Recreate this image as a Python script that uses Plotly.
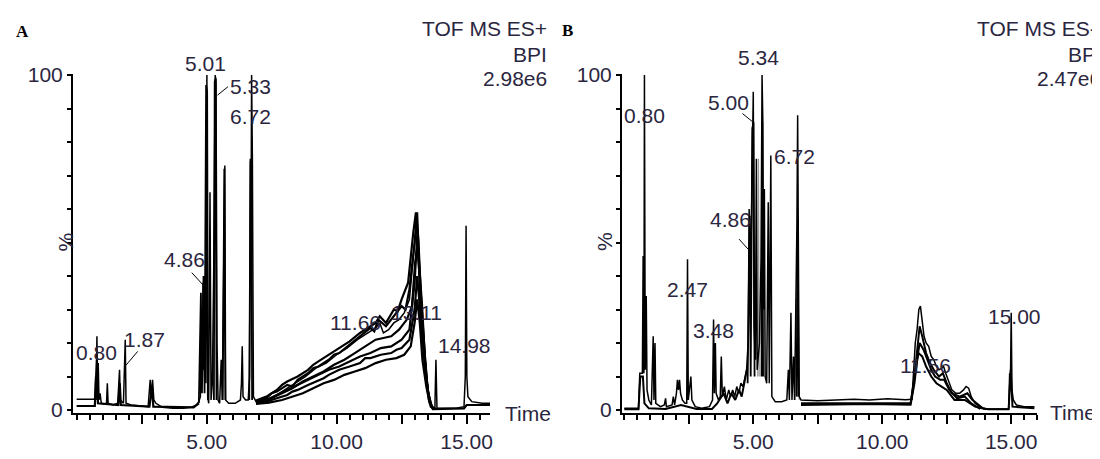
import plotly.graph_objects as go

# ---------------- Panel A (TOF MS ES+) ----------------
A_t = [0.00, 0.65, 0.70, 0.73, 0.75, 0.78, 0.81, 0.83, 0.86, 0.90, 0.95, 1.05, 1.15, 1.18, 1.21, 1.40,
       1.58, 1.62, 1.65, 1.68, 1.80, 1.87, 1.90, 2.10, 2.40, 2.75, 2.83, 2.87, 2.92, 2.97, 3.05, 3.30,
       3.70, 4.10, 4.40, 4.60, 4.70, 4.76, 4.80, 4.83, 4.86, 4.89, 4.93, 4.97, 5.01, 5.04, 5.08, 5.13,
       5.17, 5.22, 5.27, 5.30, 5.33, 5.36, 5.40, 5.44, 5.50, 5.56, 5.60, 5.66, 5.70, 5.73, 5.85, 6.10,
       6.30, 6.34, 6.37, 6.40, 6.50, 6.60, 6.65, 6.68, 6.70, 6.73, 6.76, 6.80, 6.90, 7.20, 7.60, 8.00,
       8.40, 8.80, 9.20, 9.60, 10.00, 10.40, 10.80, 11.20, 11.50, 11.66, 11.80, 12.00, 12.20, 12.40,
       12.60, 12.80, 12.95, 13.05, 13.11, 13.18, 13.25, 13.35, 13.45, 13.55, 13.65, 13.78, 13.82,
       13.86, 14.20, 14.60, 14.90, 14.95, 14.98, 15.01, 15.05, 15.20, 15.60, 15.90]
A_v = [3.2, 3.2, 3.5, 10, 3, 22, 4, 14, 3, 5, 2, 1.8, 2, 8, 2, 1.5,
       2, 10, 12, 3, 2, 21, 2, 1.5, 1.2, 1, 9, 4, 9, 3, 2, 0.8,
       0.5, 0.5, 0.8, 1.5, 2.5, 4, 30, 10, 38, 12, 36, 8, 100, 4, 2, 65,
       3, 8, 40, 96, 100, 98, 20, 3, 2, 15, 3, 45, 73, 3, 2, 2,
       3, 8, 19, 4, 3, 3, 10, 75, 40, 100, 75, 4, 2.5, 2.8, 4, 6,
       8, 10, 12.5, 14, 16.5, 18.5, 21, 23, 24.5, 26, 23, 24, 26, 27,
       29, 33, 45, 55, 59, 45, 30, 22, 10, 4, 1, 0.5, 15,
       0.5, 0.5, 0.5, 1, 10, 55, 10, 4, 2.5, 2, 2]

A_cluster_t = [4.70, 4.78, 4.82, 4.88, 4.92, 4.98, 5.02, 5.05, None, 5.28, 5.31, 5.35, 5.38, None,
               5.62, 5.68, 5.72, None, 6.64, 6.69, 6.72, 6.75]
A_cluster_v = [2, 35, 5, 40, 5, 97, 95, 3, None, 3, 98, 99, 3, None,
               3, 72, 3, None, 3, 74, 74, 3]

A_rep1_t = [0.0, 0.7, 0.78, 0.82, 1.6, 1.66, 1.70, 2.8, 2.9, 2.95, 4.5, 4.7, None, 6.9, 7.3, 7.7, 8.1,
            8.5, 8.9, 9.3, 9.7, 10.1, 10.5, 10.9, 11.3, 11.7, 12.1, 12.5, 12.8, 13.0, 13.1, 13.2, 13.3,
            13.42, 13.55, 13.7, 14.0, 14.9, 15.0, 15.3, 15.9]
A_rep1_v = [1.2, 1.2, 15, 2, 1.5, 8, 1.5, 1, 7, 1, 0.8, 2, None, 2.2, 3, 4.5, 6,
            7.5, 9, 10.5, 12, 13, 14.5, 16, 17, 18.5, 19, 21, 24, 38, 52, 38, 24,
            12, 3, 0.3, 0.3, 0.5, 1.5, 1.5, 1.5]
A_rep2_t = [6.9, 7.3, 7.5, 7.7, 8.1, 8.3, 8.5, 8.9, 9.1, 9.3, 9.7, 9.9, 10.1, 10.5, 10.7, 10.9, 11.3,
            11.45, 11.6, 11.9, 12.05, 12.2, 12.5, 12.65, 12.8, 13.0, 13.08, 13.15, 13.25, 13.38, 13.5,
            13.65, 13.8]
A_rep2_v = [2.5, 3.5, 5, 5.5, 7.5, 7, 9, 11, 12.5, 13, 15, 16.5, 17, 19.5, 21, 22, 24.5,
            23.5, 27, 25, 26.5, 28, 31, 30, 36, 50, 57, 50, 33, 18, 6,
            1, 0.4]
A_rep3_t = [6.9, 7.3, 7.7, 8.1, 8.3, 8.5, 8.9, 9.3, 9.5, 9.7, 10.1, 10.5, 10.9, 11.1, 11.3, 11.7,
            12.1, 12.3, 12.5, 12.8, 13.0, 13.1, 13.2, 13.35, 13.5, 13.62, 13.75]
A_rep3_v = [2, 2.5, 3.5, 4.5, 5.5, 6, 7.5, 9, 9.5, 10.5, 12, 13, 14, 15.5, 15.5, 16.5,
            17, 18, 18.5, 21, 30, 40, 30, 17, 6, 1, 0.3]
A_rep4_t = [6.9, 7.3, 7.7, 7.9, 8.1, 8.5, 8.9, 9.1, 9.3, 9.7, 10.1, 10.3, 10.5, 10.9, 11.3, 11.5,
            11.66, 11.9, 12.2, 12.35, 12.5, 12.75, 12.95, 13.05, 13.15, 13.28, 13.4, 13.52, 13.68]
A_rep4_v = [2.8, 4, 6, 7.5, 8.5, 10, 12, 13.5, 14.5, 16.5, 18.5, 19.5, 20.5, 23, 25, 26,
            28, 26, 30, 29.5, 33, 38, 53, 59, 46, 32, 15, 5, 0.6]
A_rep5_t = [6.9, 7.4, 7.9, 8.3, 8.7, 9.1, 9.5, 9.9, 10.3, 10.7, 11.1, 11.5, 11.8, 12.1, 12.4, 12.7,
            12.9, 13.02, 13.12, 13.22, 13.32, 13.45, 13.6, 13.72]
A_rep5_v = [2.4, 3.2, 5, 6.5, 8.5, 10, 11.5, 13.5, 15, 17, 19, 21, 21.5, 22, 24, 27,
            31, 44, 49, 36, 22, 9, 2, 0.4]
A_rep6_t = [6.9, 7.4, 7.9, 8.3, 8.7, 9.1, 9.5, 9.9, 10.3, 10.7, 11.1, 11.5, 11.9, 12.3, 12.6, 12.85,
            13.0, 13.1, 13.2, 13.3, 13.45, 13.58, 13.72]
A_rep6_v = [1.8, 2.2, 3, 4, 5, 6.5, 8, 9, 10.5, 11.5, 12.5, 14, 15, 15.5, 16.5, 19,
            26, 33, 26, 15, 7, 2, 0.3]

A_labels = ["5.01", "5.33", "6.72", "4.86", "0.80", "1.87", "11.66", "13.11", "14.98"]
A_label_t = [4.95, 6.67, 6.70, 4.15, 0.75, 2.62, 10.72, 13.09, 14.93]
A_label_v = [103.5, 96.7, 87.5, 45.0, 17.3, 21.0, 26.0, 29.0, 19.4]
A_header = ["TOF MS ES+", "BPI", "2.98e6"]

# ---------------- Panel B (TOF MS ES-) ----------------
B_t = [0.00, 0.55, 0.60, 0.70, 0.73, 0.76, 0.78, 0.81, 0.85, 0.88, 0.95, 1.05, 1.12, 1.15, 1.19, 1.22,
       1.40, 1.55, 1.60, 1.63, 1.85, 1.90, 1.95, 2.02, 2.06, 2.10, 2.14, 2.18, 2.25, 2.35, 2.42, 2.45,
       2.48, 2.58, 2.62, 2.75, 3.00, 3.30, 3.42, 3.46, 3.49, 3.53, 3.56, 3.65, 3.72, 3.76, 3.80, 3.88,
       3.95, 4.05, 4.12, 4.20, 4.28, 4.36, 4.44, 4.52, 4.60, 4.68, 4.74, 4.80, 4.84, 4.88, 4.93, 4.97,
       5.00, 5.03, 5.08, 5.12, 5.15, 5.24, 5.30, 5.34, 5.37, 5.40, 5.43, 5.46, 5.52, 5.58, 5.62, 5.68,
       5.72, 5.85, 6.10, 6.30, 6.36, 6.40, 6.46, 6.50, 6.56, 6.60, 6.66, 6.69, 6.72, 6.75, 6.78, 6.85,
       7.50, 8.20, 8.90, 9.50, 10.20, 10.90, 11.15, 11.22, 11.28, 11.35, 11.42, 11.48, 11.56, 11.62,
       11.70, 11.80, 11.90, 12.00, 12.10, 12.20, 12.30, 12.38, 12.46, 12.55, 12.70, 12.85, 13.00,
       13.15, 13.25, 13.35, 13.45, 13.60, 13.80, 14.00, 14.90, 14.94, 14.97, 15.00, 15.03, 15.08,
       15.20, 15.50, 15.90]
B_v = [0.5, 0.5, 11, 11, 46, 11, 100, 12, 34, 6, 3, 1.5, 22, 3, 20, 2,
       1, 1.5, 3.5, 1, 1.5, 4, 1.5, 5, 9, 6, 9, 5, 3, 2, 2, 45,
       3, 10, 3, 1, 0.5, 1, 3, 27, 5, 20, 5, 3, 4, 16, 4, 7,
       3, 6, 4, 6, 4, 7, 5, 8, 7, 10, 12, 20, 60, 30, 55, 86,
       95, 25, 15, 75, 12, 20, 45, 100, 86, 30, 66, 10, 8, 62, 8, 76,
       4, 2.5, 2.5, 3, 12, 3, 29, 3, 16, 3, 33, 54, 88, 54, 4, 3,
       2.8, 3, 3.2, 3, 3.4, 3.1, 3.2, 12, 20, 24, 30, 31, 26, 22,
       20, 19, 16, 15, 13, 12, 12.5, 13, 11, 9, 6, 5, 5,
       6, 7, 6.5, 4, 2, 0.8, 0.3, 0.3, 11, 8, 29, 6, 3,
       1.5, 1, 1]

B_cluster_t = [4.78, 4.86, 4.90, 4.96, 5.01, 5.05, None, 5.32, 5.35, 5.38, None, 6.68, 6.72, 6.76]
B_cluster_v = [8, 58, 10, 84, 86, 10, None, 10, 86, 10, None, 4, 54, 4]

B_gray_t = [5.17, 5.20, 5.23, None, 6.62, 6.66, 6.74, 6.78]
B_gray_v = [10, 75, 10, None, 3, 33, 33, 3]

B_rep1_t = [0.0, 0.55, 0.62, 0.72, 0.78, 0.95, 1.6, 2.2, 2.8, 3.4, 3.6, 3.85, 4.0, 4.15, 4.3, 4.45,
            4.55, 4.65, 4.75, None, 6.85, 8.0, 9.5, 11.1, 11.25, 11.35, 11.45, 11.55, 11.7, 11.85,
            12.0, 12.2, 12.35, 12.5, 12.7, 13.0, 13.3, 13.5, 13.9, 14.1, 14.9, 14.98, 15.05, 15.9]
B_rep1_v = [0.2, 0.2, 10, 10, 2, 0.5, 0.3, 1.5, 0.3, 0.3, 2, 5, 2, 5, 3, 6,
            4, 8, 12, None, 2, 2, 2.2, 2, 10, 18, 25, 22, 17, 14,
            12, 10, 11, 8, 5, 4, 5, 3, 0.5, 0.2, 0.2, 12, 1, 0.5]
B_rep2_t = [6.85, 8.0, 9.5, 11.1, 11.25, 11.35, 11.45, 11.6, 11.75, 11.9, 12.05, 12.25, 12.4, 12.6,
            12.9, 13.2, 13.45, 13.8]
B_rep2_v = [1.5, 1.6, 1.8, 1.6, 8, 15, 20, 18, 15, 12, 10, 9, 9, 6, 3.5, 4, 2, 0.3]
B_rep3_t = [11.1, 11.3, 11.4, 11.55, 11.7, 11.9, 12.1, 12.3, 12.5, 12.8, 13.2, 13.6, 14.0]
B_rep3_v = [2, 12, 17, 16, 13, 10, 8, 7, 6, 3, 3, 1, 0.3]

B_labels = ["0.80", "5.34", "5.00", "6.72", "4.86", "2.47", "3.48", "11.56", "15.00"]
B_label_t = [0.78, 5.20, 4.02, 6.60, 4.10, 2.43, 3.44, 11.69, 15.14]
B_label_v = [88.0, 105.4, 91.7, 75.7, 57.0, 36.0, 23.7, 13.2, 28.0]
B_header = ["TOF MS ES-", "BPI", "2.47e6"]

# ---------------- shared axis text ----------------
x_tickvals = [2.5, 5, 7.5, 10, 12.5, 15]
x_ticktext = ["", "5.00", "", "10.00", "", "15.00"]
y_tickvals = [0, 10, 20, 30, 40, 50, 60, 70, 80, 90, 100]
y_ticktext = ["0", "", "", "", "", "", "", "", "", "", "100"]

W, H = 1100, 459
OFF = 8  # the page body margin shifts the figure by this many pixels
FONT = "Liberation Sans, Arial, sans-serif"
TXT = "#2b2640"
FS = 21
PX_PER_PCT = 3.33


def px(x):
    return (x - OFF) / W


def py(y):
    return 1 - (y - OFF) / H


fig = go.Figure()


def add_line(t, v, xa, ya, color="black", width=1.3):
    fig.add_trace(go.Scatter(x=t, y=v, mode="lines", xaxis=xa, yaxis=ya, connectgaps=False,
                             line=dict(color=color, width=width), hoverinfo="skip",
                             showlegend=False))


# Panel A traces
for t, v in [(A_rep1_t, A_rep1_v), (A_rep2_t, A_rep2_v), (A_rep3_t, A_rep3_v),
             (A_rep4_t, A_rep4_v), (A_rep5_t, A_rep5_v), (A_rep6_t, A_rep6_v)]:
    add_line(t, v, "x", "y", width=2.2)
add_line(A_cluster_t, A_cluster_v, "x", "y", width=1.8)
add_line(A_t, A_v, "x", "y", width=1.5)

# Panel B traces
for t, v in [(B_rep1_t, B_rep1_v), (B_rep2_t, B_rep2_v), (B_rep3_t, B_rep3_v)]:
    add_line(t, v, "x2", "y2", width=2.0)
add_line(B_gray_t, B_gray_v, "x2", "y2", color="#9a9a9a", width=1.2)
add_line(B_cluster_t, B_cluster_v, "x2", "y2", width=1.8)
add_line(B_t, B_v, "x2", "y2", width=1.5)

xa_common = dict(showline=True, linecolor="black", linewidth=2, ticks="outside",
                 tickvals=x_tickvals, ticktext=x_ticktext, ticklen=9, tickwidth=1.5,
                 tickcolor="black", showgrid=False, zeroline=False, automargin=False,
                 minor=dict(ticks="outside", dtick=0.5, tick0=0, ticklen=5, tickwidth=1.5,
                            tickcolor="black", showgrid=False),
                 tickfont=dict(family=FONT, size=FS, color=TXT))
ya_common = dict(showline=True, linecolor="black", linewidth=2, ticks="outside",
                 tickvals=y_tickvals, ticktext=y_ticktext, ticklen=4, tickwidth=1.5,
                 tickcolor="black", showgrid=False, zeroline=False, range=[-0.8, 100.3],
                 automargin=False, tickfont=dict(family=FONT, size=FS, color=TXT))

ydom = [py(412.7), py(74)]
fig.update_layout(
    width=W, height=H,
    margin=dict(l=0, r=0, t=0, b=0, pad=0, autoexpand=False),
    paper_bgcolor="white", plot_bgcolor="white",
    xaxis=dict(domain=[px(73), px(490)], range=[-0.14, 15.9], anchor="y", **xa_common),
    yaxis=dict(domain=ydom, anchor="x", **ya_common),
    xaxis2=dict(domain=[px(622), px(1037)], range=[-0.09, 16.0], anchor="y2", **xa_common),
    yaxis2=dict(domain=ydom, anchor="x2", **ya_common),
)

ann = []
lab_font = dict(family=FONT, size=FS, color=TXT)


def peak_label(txt, t, v, xr, yr):
    # labels above the 100 % line are anchored at 100 and shifted up (plotly hides
    # data-referenced annotations outside the axis range)
    shift = 0
    if v > 100:
        shift = (v - 100) * PX_PER_PCT
        v = 100
    return dict(x=t, y=v, xref=xr, yref=yr, text=txt, showarrow=False, font=lab_font,
                xanchor="center", yanchor="middle", yshift=shift)


for txt, t, v in zip(A_labels, A_label_t, A_label_v):
    ann.append(peak_label(txt, t, v, "x", "y"))
for txt, t, v in zip(B_labels, B_label_t, B_label_v):
    ann.append(peak_label(txt, t, v, "x2", "y2"))

# headers (top right of each panel)
for txt, yy in zip(A_header, [29, 54, 79]):
    ann.append(dict(x=px(549), y=py(yy), xref="paper", yref="paper", text=txt, showarrow=False,
                    font=lab_font, xanchor="right", yanchor="middle"))
for txt, yy, xr in zip(B_header, [28, 54, 79], [1099, 1104, 1103]):
    ann.append(dict(x=px(xr), y=py(yy), xref="paper", yref="paper", text=txt, showarrow=False,
                    font=lab_font, xanchor="right", yanchor="middle"))

# panel letters
ann.append(dict(x=px(14), y=py(20), xref="paper", yref="paper", text="<b>A</b>", showarrow=False,
                font=dict(family="Liberation Serif, Times New Roman, serif", size=17, color="black")))
ann.append(dict(x=px(568), y=py(19), xref="paper", yref="paper", text="<b>B</b>", showarrow=False,
                font=dict(family="Liberation Serif, Times New Roman, serif", size=17, color="black")))

# Time labels
ann.append(dict(x=px(503), y=py(413), xref="paper", yref="paper", text="Time", showarrow=False,
                font=lab_font, xanchor="left", yanchor="middle"))
ann.append(dict(x=px(1048), y=py(412), xref="paper", yref="paper", text="Time", showarrow=False,
                font=lab_font, xanchor="left", yanchor="middle"))

# % axis titles
ann.append(dict(x=px(52), y=py(242), xref="paper", yref="paper", text="%", showarrow=False,
                font=lab_font, textangle=-90))
ann.append(dict(x=px(605), y=py(242), xref="paper", yref="paper", text="%", showarrow=False,
                font=lab_font, textangle=-90))

fig.update_layout(annotations=ann)

# leader lines from peak labels to peaks
leaders = [("x", "y", 5.42, 94, 5.82, 96.5), ("x", "y", 4.43, 41, 4.90, 37),
           ("x", "y", 1.90, 13.4, 2.35, 17.5),
           ("x2", "y2", 4.58, 88.5, 4.98, 86), ("x2", "y2", 4.45, 51, 4.80, 48)]
for xr, yr, x0, y0, x1, y1 in leaders:
    fig.add_shape(type="line", xref=xr, yref=yr, x0=x0, y0=y0, x1=x1, y1=y1,
                  line=dict(color="black", width=1))

fig.write_html("out.html")
